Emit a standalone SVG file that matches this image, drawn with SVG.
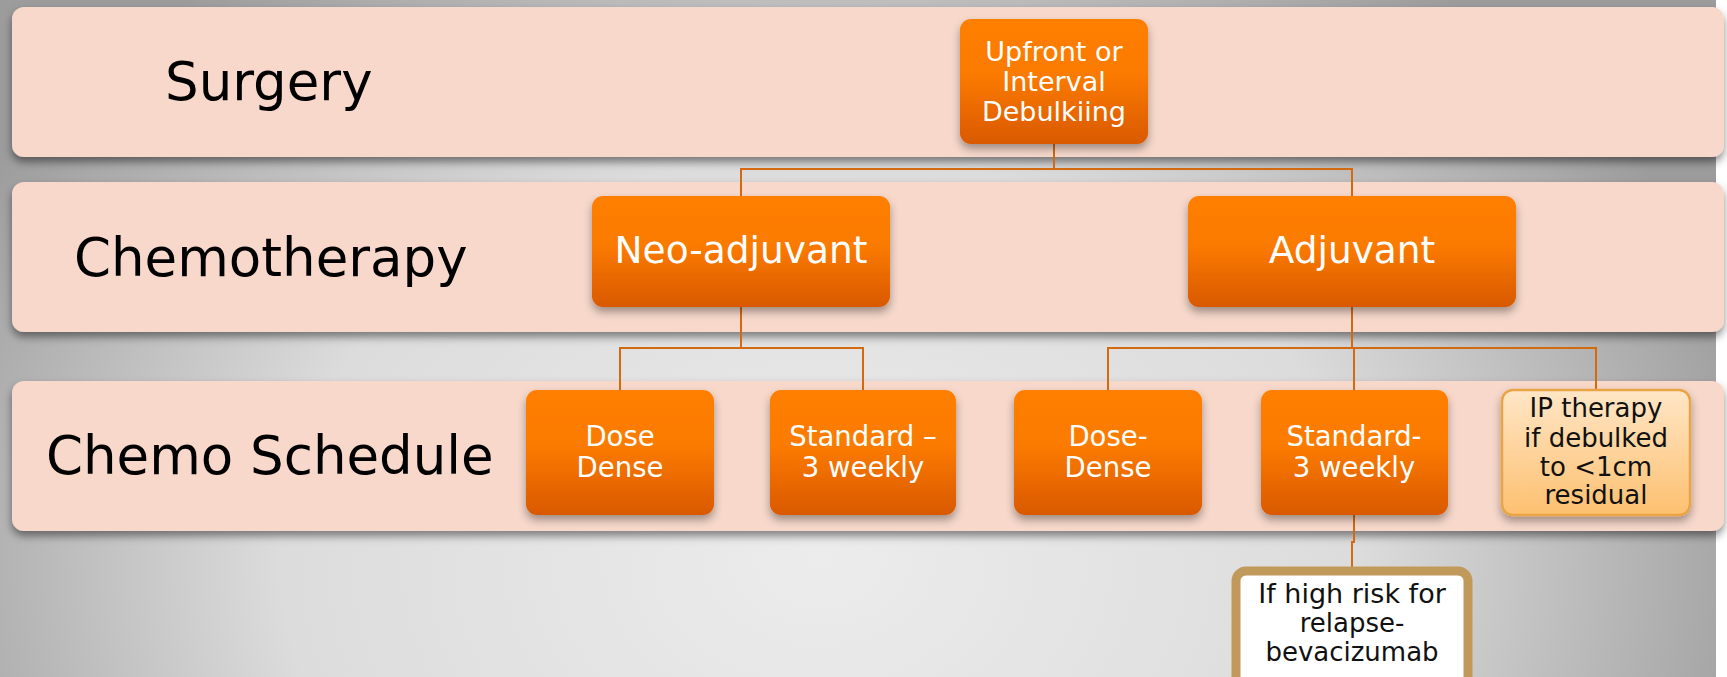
<svg xmlns="http://www.w3.org/2000/svg" width="1727" height="677" viewBox="0 0 1727 677">
<defs>
<radialGradient id="bg" cx="820" cy="560" r="980" gradientUnits="userSpaceOnUse" gradientTransform="translate(820 560) scale(1 0.75) translate(-820 -560)">
<stop offset="0" stop-color="#ececec"/>
<stop offset="0.55" stop-color="#dcdcdc"/>
<stop offset="1" stop-color="#9c9c9c"/>
</radialGradient>
<linearGradient id="org" x1="0" y1="0" x2="0" y2="1">
<stop offset="0" stop-color="#ff7f00"/>
<stop offset="0.45" stop-color="#fb7a00"/>
<stop offset="1" stop-color="#d95900"/>
</linearGradient>
<linearGradient id="lt" x1="0" y1="0" x2="0" y2="1">
<stop offset="0" stop-color="#ffe6c6"/>
<stop offset="1" stop-color="#fdc070"/>
</linearGradient>
<filter id="bsh" x="-5%" y="-20%" width="110%" height="150%">
<feDropShadow dx="0" dy="5" stdDeviation="4" flood-color="#000" flood-opacity="0.45"/>
</filter>
<filter id="nsh" x="-20%" y="-20%" width="140%" height="150%">
<feDropShadow dx="0" dy="5" stdDeviation="4" flood-color="#000" flood-opacity="0.35"/>
</filter>
</defs>
<style>
.band{fill:#f7d8cb;filter:url(#bsh)}
.lbl{font-family:"DejaVu Sans",Verdana,sans-serif;font-size:53px;fill:#000}
.node{fill:url(#org);filter:url(#nsh)}
.nt{font-family:"DejaVu Sans",Verdana,sans-serif;fill:#fff;text-anchor:middle}
.dt{font-family:"DejaVu Sans",Verdana,sans-serif;fill:#111;text-anchor:middle;font-size:26px}
.con{fill:none;stroke:#d36a12;stroke-width:2}
</style>
<rect width="1727" height="677" fill="#ffffff"/>
<rect width="1716" height="677" fill="url(#bg)"/>
<g id="band-surgery">
<rect class="band" x="12" y="7" width="1712" height="150" rx="12"/>
<text class="lbl" x="165" y="100">Surgery</text>
</g>
<g id="band-chemotherapy">
<rect class="band" x="12" y="182" width="1712" height="150" rx="12"/>
<text class="lbl" x="74" y="276">Chemotherapy</text>
</g>
<g id="band-schedule">
<rect class="band" x="12" y="381" width="1712" height="150" rx="12"/>
<text class="lbl" x="46" y="474">Chemo Schedule</text>
</g>
<g id="connectors">
<path class="con" d="M1054,144 V169 M741,196 V169 H1352 V196"/>
<path class="con" d="M741,307 V348 M620,390 V348 H863 V390"/>
<path class="con" d="M1352,307 V348 M1108,390 V348 H1596 V390 M1354,348 V390"/>
<path class="con" d="M1354,515 V542 H1352 V567"/>
</g>
<g id="node-upfront">
<rect class="node" x="960" y="19" width="188" height="125" rx="11"/>
<text class="nt" font-size="27"><tspan x="1054" y="61">Upfront or</tspan><tspan x="1054" y="91">Interval</tspan><tspan x="1054" y="121">Debulkiing</tspan></text>
</g>
<g id="node-neoadjuvant">
<rect class="node" x="592" y="196" width="298" height="111" rx="11"/>
<text class="nt" font-size="37.5" x="741" y="263">Neo-adjuvant</text>
</g>
<g id="node-adjuvant">
<rect class="node" x="1188" y="196" width="328" height="111" rx="11"/>
<text class="nt" font-size="37.5" x="1352" y="263">Adjuvant</text>
</g>
<g id="node-dosedense1">
<rect class="node" x="526" y="390" width="188" height="125" rx="11"/>
<text class="nt" font-size="27.5"><tspan x="620" y="446">Dose</tspan><tspan x="620" y="477">Dense</tspan></text>
</g>
<g id="node-standard1">
<rect class="node" x="770" y="390" width="186" height="125" rx="11"/>
<text class="nt" font-size="27.5"><tspan x="863" y="446">Standard –</tspan><tspan x="863" y="477">3 weekly</tspan></text>
</g>
<g id="node-dosedense2">
<rect class="node" x="1014" y="390" width="188" height="125" rx="11"/>
<text class="nt" font-size="27.5"><tspan x="1108" y="446">Dose-</tspan><tspan x="1108" y="477">Dense</tspan></text>
</g>
<g id="node-standard2">
<rect class="node" x="1261" y="390" width="187" height="125" rx="11"/>
<text class="nt" font-size="27.5"><tspan x="1354" y="446">Standard-</tspan><tspan x="1354" y="477">3 weekly</tspan></text>
</g>
<g id="node-ip">
<rect x="1502" y="390" width="188" height="125" rx="11" fill="url(#lt)" stroke="#e8a445" stroke-width="2.5" filter="url(#nsh)"/>
<text class="dt"><tspan x="1596" y="417">IP therapy</tspan><tspan x="1596" y="447">if debulked</tspan><tspan x="1596" y="476">to &lt;1cm</tspan><tspan x="1596" y="504">residual</tspan></text>
</g>
<g id="node-bev">
<rect x="1236" y="571" width="232" height="120" rx="10" fill="#fff" stroke="#c19a5b" stroke-width="9"/>
<text class="dt" font-size="27"><tspan x="1352" y="603" font-size="27">If high risk for</tspan><tspan x="1352" y="632">relapse-</tspan><tspan x="1352" y="661">bevacizumab</tspan></text>
</g>
</svg>
